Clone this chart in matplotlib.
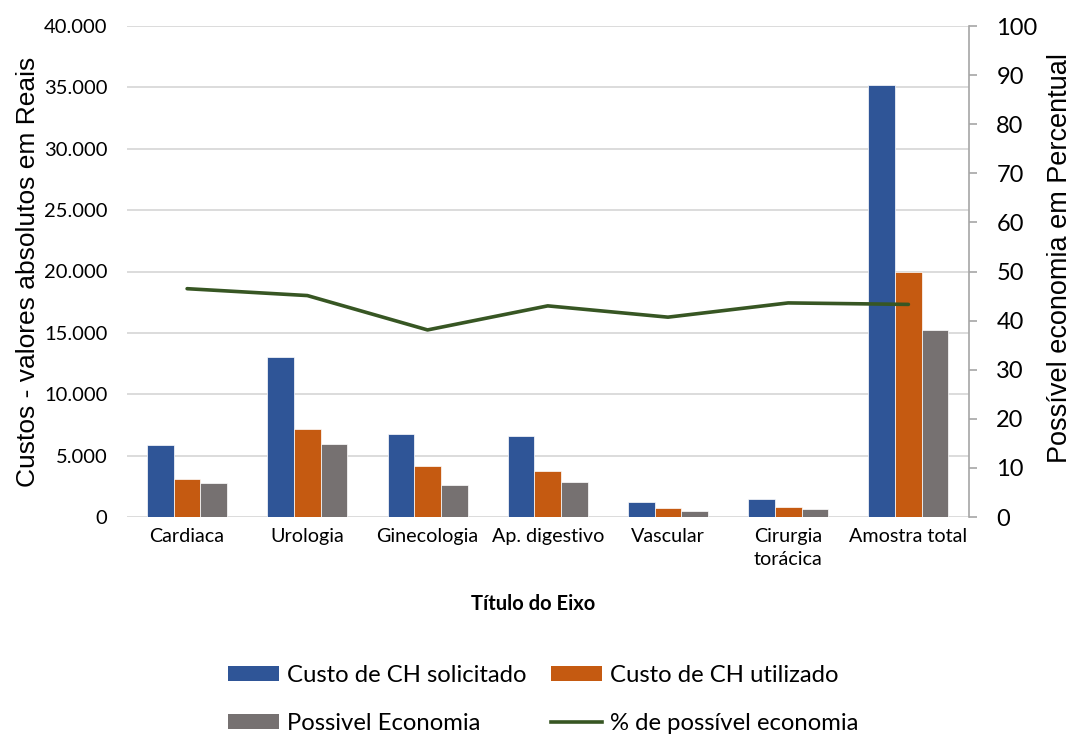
import matplotlib
matplotlib.use("Agg")
import matplotlib.pyplot as plt
import numpy as np
from matplotlib.ticker import FuncFormatter, MultipleLocator
from matplotlib.patches import Patch
from matplotlib.lines import Line2D

# ---------------------------------------------------------------------------
# Data: costs per surgical specialty (R$) and percentage of possible savings
# ---------------------------------------------------------------------------
categorias = ["Cardiaca", "Urologia", "Ginecologia", "Ap. digestivo",
              "Vascular", "Cirurgia\ntorácica", "Amostra total"]
custo_solicitado = [5870, 13060, 6760, 6600, 1250, 1465, 35190]
custo_utilizado = [3120, 7170, 4155, 3750, 735, 815, 19935]
possivel_economia = [2745, 5920, 2580, 2825, 490, 650, 15235]
pct_economia = [46.5, 45.1, 38.1, 43.0, 40.7, 43.6, 43.3]

COR_SOLICITADO = "#2F5597"
COR_UTILIZADO = "#C55A11"
COR_ECONOMIA = "#767171"
COR_LINHA = "#375623"
COR_GRADE = "#D9D9D9"

FONTE = ["Lato", "DejaVu Sans"]
FONTE_EIXO = ["Liberation Sans", "DejaVu Sans"]

W, H = 1072, 736


def milhar(v, _pos):
    # Brazilian thousands separator
    return f"{v:,.0f}".replace(",", ".")


fig = plt.figure(figsize=(W / 100, H / 100), dpi=100)
ax = fig.add_axes([127 / W, 1 - 517 / H, 841.5 / W, 491 / H])

x = np.arange(len(categorias))
largura = 0.222
kw = dict(width=largura, edgecolor="white", linewidth=0.5, zorder=2)
ax.bar(x - largura, custo_solicitado, color=COR_SOLICITADO, **kw)
ax.bar(x, custo_utilizado, color=COR_UTILIZADO, **kw)
ax.bar(x + largura, possivel_economia, color=COR_ECONOMIA, **kw)

ax.set_xlim(-0.5, len(categorias) - 0.5)
ax.set_ylim(0, 40000)
ax.yaxis.set_major_locator(MultipleLocator(5000))
ax.yaxis.set_major_formatter(FuncFormatter(milhar))
ax.grid(axis="y", color=COR_GRADE, linewidth=1.3, zorder=0)
ax.set_axisbelow(True)
for s in ax.spines.values():
    s.set_visible(False)
ax.tick_params(axis="y", length=0, pad=14, labelsize=14.5, labelcolor="#000000")
ax.tick_params(axis="x", length=0, pad=8, labelsize=14.2)
ax.set_xticks(x)
ax.set_xticklabels(categorias, fontfamily=FONTE, linespacing=1.45)
for lbl in ax.get_yticklabels():
    lbl.set_fontfamily(FONTE)

# Secondary axis: percentage line
ax2 = ax.twinx()
ax2.plot(x, pct_economia, color=COR_LINHA, linewidth=2.6,
         solid_capstyle="round", zorder=3)
ax2.set_ylim(0, 100)
ax2.yaxis.set_major_locator(MultipleLocator(10))
for nome, s in ax2.spines.items():
    s.set_visible(nome == "right")
ax2.spines["right"].set_color("#A6A6A6")
ax2.spines["right"].set_linewidth(1.2)
ax2.tick_params(axis="y", length=6, width=1.2, color="#A6A6A6",
                pad=14, labelsize=17)
for lbl in ax2.get_yticklabels():
    lbl.set_fontfamily(FONTE)

# Axis titles
fig.text(28 / W, 1 - 272 / H, "Custos - valores absolutos em Reais",
         rotation=90, ha="center", va="center", fontsize=19,
         family=FONTE_EIXO)
fig.text(1060 / W, 1 - 258 / H, "Possível economia em Percentual",
         rotation=90, ha="center", va="center", fontsize=19.5,
         family=FONTE_EIXO)
fig.text(533 / W, 1 - 604 / H, "Título do Eixo", ha="center", va="center",
         fontsize=14.5, fontweight="bold", family=FONTE)

# Legend: two rows, two columns
handles = [
    Patch(facecolor=COR_SOLICITADO, label="Custo de CH solicitado"),
    Patch(facecolor=COR_ECONOMIA, label="Possivel Economia"),
    Patch(facecolor=COR_UTILIZADO, label="Custo de CH utilizado"),
    Line2D([], [], color=COR_LINHA, linewidth=2.6, label="% de possível economia"),
]
fig.legend(handles=handles, ncol=2, loc="upper left",
           bbox_to_anchor=(228 / W, 1 - 665 / H), frameon=False,
           borderpad=0, borderaxespad=0, handlelength=2.15,
           handleheight=0.6, handletextpad=0.3, columnspacing=1.05,
           labelspacing=1.12, prop=dict(family=FONTE, size=17.2))

fig.savefig("out.png", dpi=100)
